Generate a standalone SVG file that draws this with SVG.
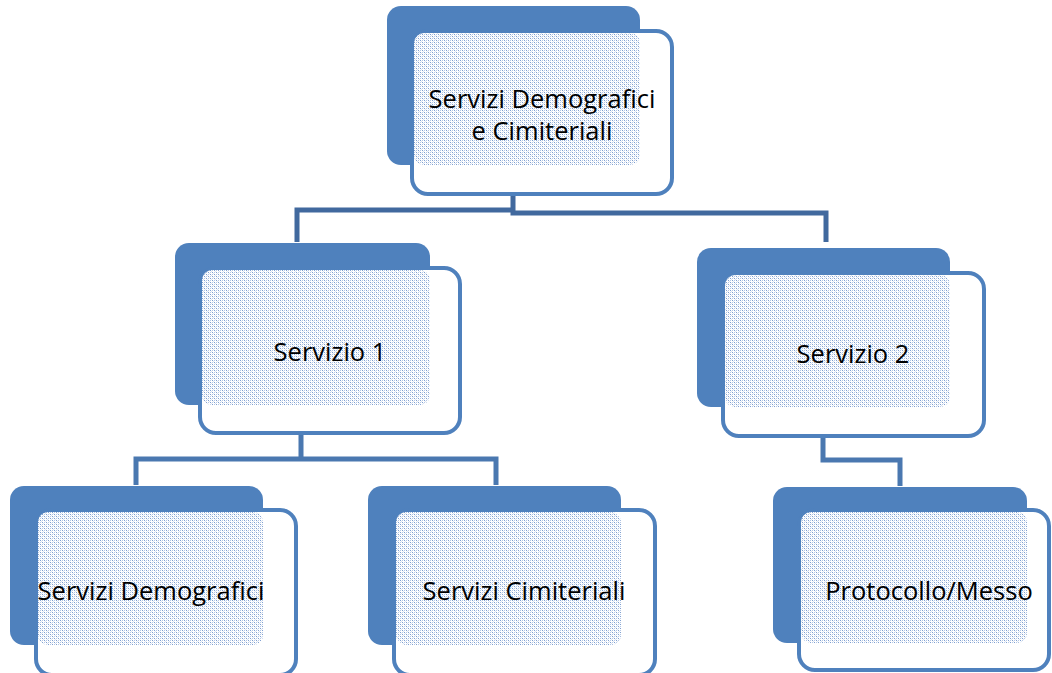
<svg xmlns="http://www.w3.org/2000/svg" width="1052" height="673" viewBox="0 0 1052 673">
<defs>
<pattern id="dots" width="4" height="4" patternUnits="userSpaceOnUse">
<rect width="4" height="4" fill="#ffffff"/>
<rect x="0" y="0" width="1" height="1" fill="#7f9fd0"/>
<rect x="2" y="2" width="1" height="1" fill="#7f9fd0"/>
<rect x="2" y="0" width="1" height="1" fill="#b4c7e5"/>
<rect x="0" y="2" width="1" height="1" fill="#b4c7e5"/>
<rect x="1" y="1" width="1" height="1" fill="#dbe4f2"/>
<rect x="3" y="3" width="1" height="1" fill="#dbe4f2"/>
</pattern>
<style>
.back{fill:#4f81bd}
.front{fill:#ffffff;stroke:#4f81bd;stroke-width:4}
.pat{fill:url(#dots)}
.lbl{font-family:"Open Sans","Noto Sans",sans-serif;font-size:25.5px;fill:#000;text-anchor:middle}
.conn{fill:none;stroke:#4a78b0;stroke-width:5;stroke-linejoin:miter}
</style>
</defs>
<g id="connectors">
<path class="conn" style="stroke:#41699e" d="M513 195 V213 H826 V242"/>
<path class="conn" style="stroke:#41699e" d="M513 210 H297 V242"/>
<path class="conn" d="M301 433 V459 H136 V485 M301 459 H496 V485"/>
<path class="conn" d="M823 437 V460 H900 V486"/>
</g>
<g id="n-top">
<rect class="back" x="387" y="6" width="253" height="159" rx="14"/>
<rect class="front" x="412" y="31" width="260" height="163" rx="16"/>
<rect class="pat" x="414" y="33" width="226" height="132" rx="10"/>
<text class="lbl" x="542" y="108">Servizi Demografici</text>
<text class="lbl" x="542" y="140">e Cimiteriali</text>
</g>
<g id="n-s1">
<rect class="back" x="175" y="243" width="255" height="162" rx="14"/>
<rect class="front" x="200" y="268" width="260" height="165" rx="16"/>
<rect class="pat" x="202" y="270" width="228" height="135" rx="10"/>
<text class="lbl" x="330" y="361">Servizio 1</text>
</g>
<g id="n-s2">
<rect class="back" x="697" y="248" width="253" height="159" rx="14"/>
<rect class="front" x="723" y="273" width="261" height="163" rx="16"/>
<rect class="pat" x="725" y="275" width="225" height="132" rx="10"/>
<text class="lbl" x="853" y="363">Servizio 2</text>
</g>
<g id="n-dem">
<rect class="back" x="10" y="486" width="253" height="159" rx="14"/>
<rect class="front" x="36" y="510" width="260" height="165" rx="16"/>
<rect class="pat" x="38" y="512" width="225" height="133" rx="10"/>
<text class="lbl" x="151" y="600">Servizi Demografici</text>
</g>
<g id="n-cim">
<rect class="back" x="368" y="486" width="253" height="159" rx="14"/>
<rect class="front" x="394" y="510" width="261" height="165" rx="16"/>
<rect class="pat" x="396" y="512" width="225" height="133" rx="10"/>
<text class="lbl" x="524" y="600">Servizi Cimiteriali</text>
</g>
<g id="n-prot">
<rect class="back" x="773" y="487" width="254" height="156" rx="14"/>
<rect class="front" x="799" y="510" width="250" height="160" rx="16"/>
<rect class="pat" x="801" y="512" width="226" height="131" rx="10"/>
<text class="lbl" x="929" y="600">Protocollo/Messo</text>
</g>
</svg>
